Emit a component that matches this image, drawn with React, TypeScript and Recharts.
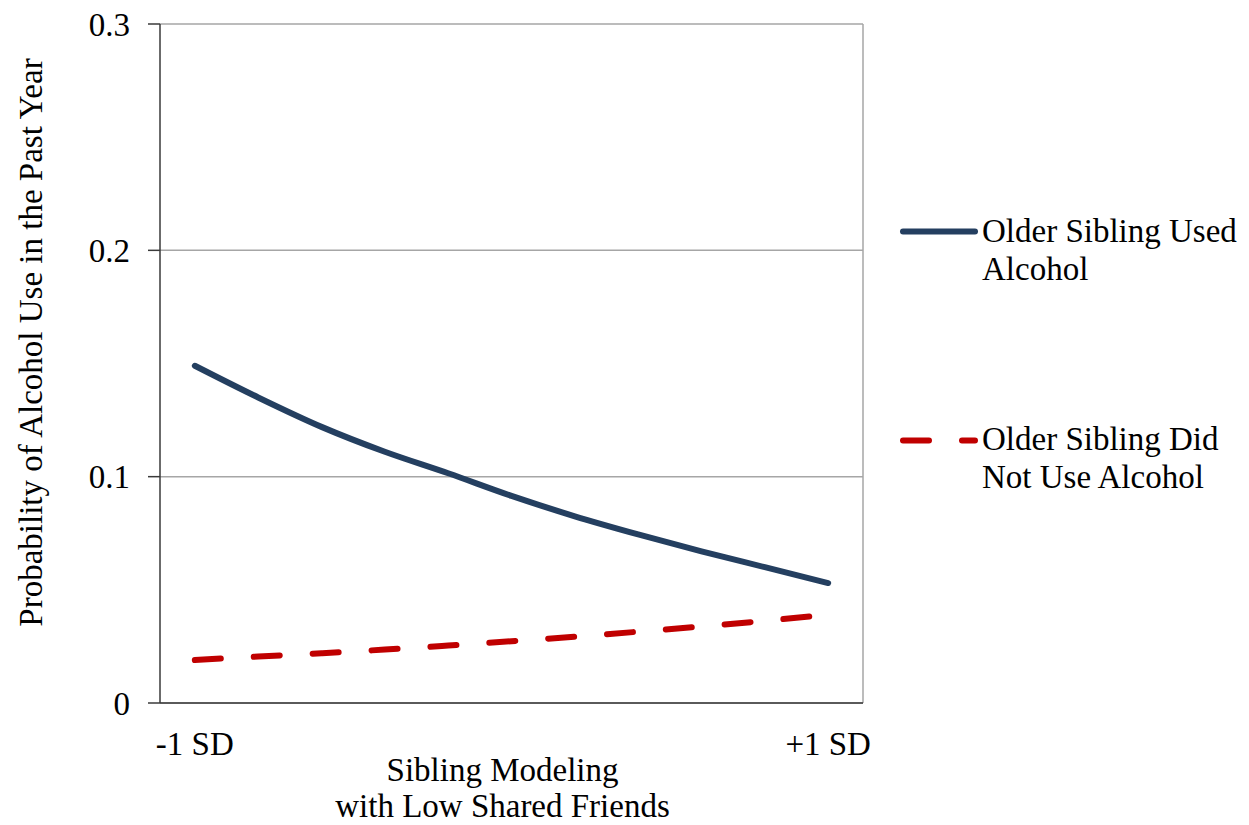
import React from 'react';
import { LineChart, Line, XAxis, YAxis, CartesianGrid, ReferenceLine, Legend } from 'recharts';

const xPositions = [-1, -0.8, -0.6, -0.4, -0.2, 0, 0.2, 0.4, 0.6, 0.8, 1];
const usedAlcohol = [0.149, 0.135, 0.122, 0.111, 0.1015, 0.0915, 0.0825, 0.0745, 0.067, 0.06, 0.053];
const notUsedAlcohol = [0.019, 0.0205, 0.022, 0.0236, 0.0254, 0.0273, 0.0293, 0.0315, 0.0338, 0.0363, 0.039];
const yTicks = [0, 0.1, 0.2, 0.3];
const xTicks = [-1, 1];
const xTickLabels: Record<string, string> = { '-1': '-1 SD', '1': '+1 SD' };
const seriesNames = ['Older Sibling Used Alcohol', 'Older Sibling Did Not Use Alcohol'];
const xMax = 1.11;

const data = xPositions.map((x, i) => ({ x, used: usedAlcohol[i], notUsed: notUsedAlcohol[i] }));

const FONT = "'Liberation Serif', 'Times New Roman', serif";
const BLUE = '#243F60';
const RED = '#C00000';
const GRID = '#a6a6a6';
const AXIS = '#3a3a3a';
const FS = 33;
const SW = 6;
const DASH = '26 33';

const LegendContent = () => (
  <svg width={359} height={320} style={{ display: 'block' }}>
    <line x1={13} y1={31.5} x2={85} y2={31.5} stroke={BLUE} strokeWidth={SW} strokeLinecap="round" />
    <text x={92} y={41.5} fontFamily={FONT} fontSize={FS} fill="#000">
      <tspan x={92} y={41.5}>Older Sibling Used</tspan>
      <tspan x={92} y={80}>Alcohol</tspan>
    </text>
    <line x1={13} y1={240.5} x2={85} y2={240.5} stroke={RED} strokeWidth={SW} strokeLinecap="round" strokeDasharray={DASH} />
    <text x={92} y={250} fontFamily={FONT} fontSize={FS} fill="#000">
      <tspan x={92} y={250}>Older Sibling Did</tspan>
      <tspan x={92} y={288}>Not Use Alcohol</tspan>
    </text>
  </svg>
);

const XTitle = (props: any) => {
  const vb = props.viewBox || {};
  const cx = vb.x + vb.width / 2 - 9;
  return (
    <text textAnchor="middle" fontFamily={FONT} fontSize={FS} fill="#000">
      <tspan x={cx} y={vb.y + 78}>Sibling Modeling</tspan>
      <tspan x={cx} y={vb.y + 114}>with Low Shared Friends</tspan>
    </text>
  );
};

const YTitle = (props: any) => {
  const vb = props.viewBox || {};
  const cy = vb.y + vb.height / 2 - 21;
  const bx = 42;
  return (
    <text x={bx} y={cy} textAnchor="middle" transform={`rotate(-90, ${bx}, ${cy})`} fontFamily={FONT} fontSize={FS} fill="#000">
      Probability of Alcohol Use in the Past Year
    </text>
  );
};

export default function App() {
  return (
    <div style={{ position: 'absolute', left: 0, top: 0, width: 1249, height: 825, background: '#fff' }}>
      <LineChart width={1249} height={825} data={data} margin={{ top: 24, right: 27, bottom: 0, left: 0 }}>
        <CartesianGrid vertical={false} stroke={GRID} strokeWidth={1.5} />
        <ReferenceLine x={xMax} stroke={GRID} strokeWidth={1.5} />
        <XAxis
          type="number"
          dataKey="x"
          domain={[-xMax, xMax]}
          ticks={xTicks}
          allowDataOverflow
          height={122}
          axisLine={{ stroke: AXIS, strokeWidth: 1.5 }}
          tickLine={false}
          tickSize={0}
          tickMargin={29}
          tickFormatter={(v: number) => xTickLabels[String(v)]}
          tick={{ fontFamily: FONT, fontSize: FS, fill: '#000' }}
          label={<XTitle />}
        />
        <YAxis
          type="number"
          domain={[0, 0.3]}
          ticks={yTicks}
          width={160}
          axisLine={{ stroke: AXIS, strokeWidth: 1.5 }}
          tickLine={{ stroke: AXIS, strokeWidth: 1.5 }}
          tickSize={12}
          tickMargin={18}
          tickFormatter={(v: number) => (v === 0 ? '0' : v.toFixed(1))}
          tick={{ fontFamily: FONT, fontSize: FS, fill: '#000' }}
          label={<YTitle />}
        />
        <Line type="monotone" dataKey="used" name={seriesNames[0]} stroke={BLUE} strokeWidth={SW} strokeLinecap="round" dot={false} activeDot={false} isAnimationActive={false} />
        <Line type="monotone" dataKey="notUsed" name={seriesNames[1]} stroke={RED} strokeWidth={SW} strokeLinecap="round" strokeDasharray={DASH} dot={false} activeDot={false} isAnimationActive={false} />
        <Legend
          layout="vertical"
          align="right"
          verticalAlign="middle"
          content={<LegendContent />}
          wrapperStyle={{ position: 'absolute', left: 890, top: 200, width: 359, height: 320 }}
        />
      </LineChart>
    </div>
  );
}
